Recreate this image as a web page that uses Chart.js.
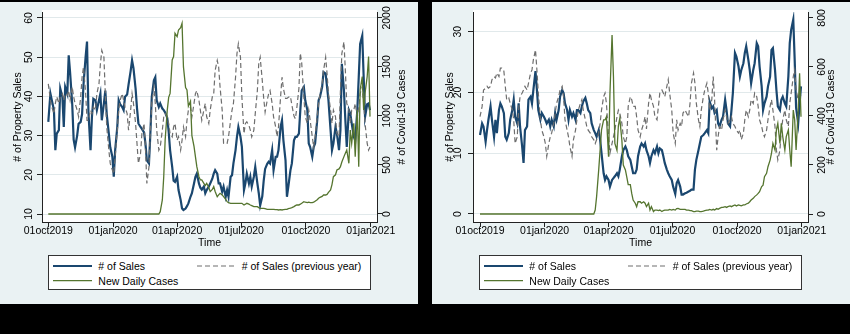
<!DOCTYPE html>
<html><head><meta charset="utf-8">
<script src="https://cdn.jsdelivr.net/npm/chart.js@4.4.1/dist/chart.umd.min.js"></script>
<style>
html,body{margin:0;padding:0;background:#000;width:850px;height:334px;overflow:hidden;font-family:"Liberation Sans",Arial,sans-serif;}
.panel{position:absolute;background:#eaf2f3;}
canvas{position:absolute;top:0;}
.legend{position:absolute;background:#fff;border:1px solid #333;box-sizing:border-box;}
.legend span{position:absolute;font-size:10.5px;line-height:12px;color:#000;white-space:nowrap;}
.legend svg{position:absolute;left:0;top:0;}
</style></head><body>
<div class="panel" style="left:0;top:2px;width:418px;height:302px"></div>
<div class="panel" style="left:432px;top:2px;width:418px;height:302px"></div>
<canvas id="cA" width="418" height="303" style="left:0"></canvas>
<canvas id="cB" width="418" height="303" style="left:432px"></canvas>
<div id="legA" class="legend" style="left:48px;top:255px;width:323px;height:35px"></div>
<div id="legB" class="legend" style="left:479px;top:255px;width:323px;height:35px"></div>
<script>
// ---- data (day 0 = 01oct2019) ----
const seriesNames = ['# of Sales', '# of Sales (previous year)', 'New Daily Cases'];
const xTickDays = [0, 92, 183, 274, 366, 458];
const xTickLabels = ['01oct2019', '01jan2020', '01apr2020', '01jul2020', '01oct2020', '01jan2021'];
const yTicksA = [10, 20, 30, 40, 50, 60];
const y2TicksA = [0, 500, 1000, 1500, 2000];
const yTicksB = [0, 10, 20, 30];
const y2TicksB = [0, 200, 400, 600, 800];

const days = [
0,3,5,8,10,12,15,17,20,22,
24,27,29,31,34,36,38,41,43,46,
48,50,53,55,57,60,62,64,67,69,
72,74,76,79,81,83,86,88,91,93,
95,98,100,102,105,107,109,112,114,117,
119,121,124,126,128,131,133,136,138,140,
143,145,147,150,152,154,157,159,162,164,
166,169,171,173,176,178,180,183,185,188,
190,192,195,197,199,202,204,207,209,211,
214,216,218,221,223,225,228,230,233,235,
237,240,242,244,247,249,252,254,256,259,
261,263,266,268,270,273,275,278,280,282,
285,287,289,292,294,297,299,301,304,306,
308,311,313,315,318,320,323,325,327,330,
332,334,337,339,341,344,346,349,351,353,
356,358,360,363,365,368,370,372,375,377,
379,382,384,386,389,391,394,396,398,401,
403,405,408,410,413,415,417,420,422,424,
427,429,431,434,436,439,441,443,446,448,
450,453,455,457];

// Left panel
const salesA = [
33.5,40.7,39.0,36.5,26.3,30.5,31.4,42.0,39.9,32.2,
42.4,40.7,50.5,46.0,38.0,29.0,27.0,30.0,33.0,33.5,
35.5,43.0,50.0,54.0,36.0,26.3,34.8,39.4,39.0,36.5,
39.0,40.7,33.9,38.2,41.5,35.5,30.5,27.0,24.6,19.5,
26.3,32.2,39.0,38.0,37.3,36.5,39.9,40.5,43.0,46.5,
49.2,47.2,42.0,37.0,33.1,32.2,31.7,30.8,28.0,23.7,
22.9,30.5,39.9,44.1,44.9,39.0,37.3,38.2,36.9,36.5,
35.9,34.5,31.0,26.3,22.0,18.5,18.2,19.5,16.1,13.6,
11.4,11.0,11.4,12.0,12.7,14.4,15.3,17.8,19.5,20.3,
17.8,16.7,16.2,17.0,15.3,16.1,17.0,17.8,19.0,20.3,
21.2,20.3,17.8,17.8,15.7,17.0,14.4,16.1,14.4,19.5,
19.9,22.9,26.3,29.7,32.2,29.7,27.1,16.1,17.8,20.3,
17.8,19.5,17.0,19.5,22.0,17.8,15.3,12.2,14.5,18.5,
21.5,22.8,23.3,22.9,26.3,21.2,24.6,24.6,26.3,32.2,
33.9,28.8,23.7,14.4,17.0,21.2,22.9,28.8,29.7,29.7,
30.5,36.5,41.5,42.4,39.0,36.5,28.0,27.1,24.6,27.1,
28.0,33.9,39.0,39.9,42.4,46.2,45.8,42.4,39.0,31.4,
26.3,28.0,32.2,30.5,26.3,31.4,48.3,41.5,33.9,27.1,
36.5,35.6,33.1,29.7,28.8,36.5,44.9,53.4,55.5,45.0,
34.8,38.0,38.2,36.5];
const prevA = [
43.2,39.0,37.3,35.6,38.2,39.9,38.2,39.9,40.7,39.0,
40.7,40.3,41.5,39.0,42.4,39.9,38.2,36.5,34.8,39.9,
44.9,47.5,41.0,33.9,33.9,36.5,35.6,37.3,36.5,40.7,
43.2,48.3,51.7,50.0,40.7,32.2,26.3,22.9,21.2,20.3,
24.6,31.4,36.5,39.0,40.7,39.0,37.3,35.6,31.4,36.5,
40.7,38.2,33.1,28.0,22.9,25.4,30.5,33.1,27.1,17.8,
22.0,31.4,38.2,42.4,38.2,31.4,26.3,27.1,31.4,34.8,
35.6,34.8,33.1,30.5,29.7,32.2,33.1,28.8,29.7,26.3,
28.8,32.2,29.7,33.9,36.5,37.3,34.8,38.2,40.7,41.5,
39.0,36.5,33.9,36.5,38.2,34.8,33.1,36.5,39.9,40.7,
46.6,49.2,47.5,42.4,36.5,28.0,28.0,28.0,29.7,33.9,
36.5,38.2,44.9,50.9,53.4,50.0,39.9,30.5,33.1,33.5,
32.6,31.4,29.7,31.4,35.6,41.5,48.5,50.0,44.0,39.5,
36.0,39.0,40.7,41.5,38.2,34.8,32.2,29.7,32.2,39.9,
44.9,42.0,39.5,39.5,39.8,40.0,37.8,35.0,34.3,37.0,
42.0,51.0,48.5,39.9,34.8,33.1,36.5,33.9,29.7,27.1,
29.7,34.8,38.2,40.7,43.2,46.6,50.0,45.8,40.7,36.5,
33.1,36.5,34.8,30.5,29.7,41.5,50.9,53.9,46.6,38.2,
36.5,33.1,36.5,36.5,38.2,34.8,37.3,40.7,42.4,38.2,
33.1,28.0,26.3,27.1];
const casesA = [
0,0,0,0,0,0,0,0,0,0,
0,0,0,0,0,0,0,0,0,0,
0,0,0,0,0,0,0,0,0,0,
0,0,0,0,0,0,0,0,0,0,
0,0,0,0,0,0,0,0,0,0,
0,0,0,0,0,0,0,0,0,0,
0,0,0,0,0,0,0,24,143,381,
755,1060,1190,1230,1571,1605,1843,1809,1877,1900,
1945,1500,1290,1265,1100,1150,800,690,585,483,
381,347,347,313,290,313,270,228,250,279,
230,177,195,211,195,177,150,126,115,109,
109,109,109,109,109,109,109,92,100,109,
100,92,85,75,75,75,65,58,58,58,
55,48,48,48,48,48,45,45,41,45,
41,45,48,48,55,60,65,75,85,92,
92,100,110,126,120,116,120,116,116,120,
130,145,160,170,180,194,194,200,220,245,
300,381,400,449,460,483,530,585,620,653,
517,857,721,925,585,1061,483,1265,1401,1061,
1231,1401,1605,993];

// Right panel
const salesB = [
13.0,14.9,14.4,11.9,13.8,15.5,17.7,15.5,12.7,15.5,
13.3,17.1,18.2,17.7,16.6,12.7,12.2,13.3,15.5,17.1,
18.8,16.0,14.9,18.2,14.4,11.1,8.4,13.8,14.4,18.8,
19.3,18.2,20.4,23.5,20.5,17.1,15.5,16.6,16.0,15.5,
14.9,15.5,14.4,15.5,14.4,16.6,15.5,17.1,19.3,20.4,
19.9,18.2,17.1,15.5,17.1,16.0,16.6,15.5,17.1,17.1,
16.6,17.7,18.5,19.1,18.2,17.1,16.6,14.9,13.8,13.3,
12.7,13.8,12.2,10.0,6.7,5.6,6.2,5.6,4.5,5.6,
5.9,6.2,6.7,6.2,7.3,9.5,10.5,11.1,10.5,9.5,
8.9,7.8,6.7,6.7,7.3,9.5,11.1,11.6,11.1,11.6,
10.5,9.5,8.4,9.5,10.5,10.0,11.1,10.0,10.8,10.5,
9.5,8.4,7.3,6.7,6.2,5.6,4.5,3.3,5.1,5.6,
4.5,3.2,3.2,3.4,3.5,3.7,3.8,4.0,4.0,7.3,
8.9,10.5,11.6,12.7,13.0,13.3,13.8,13.3,18.5,17.4,
17.7,16.6,17.1,14.9,14.4,15.5,16.0,18.8,17.1,14.9,
14.4,17.1,19.9,26.5,25.9,24.3,22.6,23.7,24.8,26.5,
27.6,25.4,23.7,21.5,23.7,24.8,28.1,27.6,24.3,21.0,
17.1,18.2,19.3,21.0,22.6,27.0,27.3,23.7,20.4,17.7,
17.1,18.8,19.3,18.2,17.7,22.6,28.1,30.3,32.0,25.4,
17.5,14.9,18.2,21.0];
const prevB = [
16.0,17.7,20.4,20.7,21.0,20.7,21.0,22.1,22.6,22.4,
23.2,22.6,24.0,24.0,23.5,21.0,18.8,19.1,18.2,17.1,
15.5,11.6,12.7,17.1,19.3,19.9,20.4,21.0,20.4,21.5,
23.2,23.7,25.4,27.0,23.7,19.9,15.5,13.8,12.7,11.6,
9.5,11.6,12.7,13.3,14.9,16.6,18.2,19.3,20.4,21.0,
19.3,15.5,13.8,12.7,11.1,9.5,12.2,13.8,15.5,17.1,
18.2,18.8,17.1,15.5,14.4,13.8,13.3,12.7,12.2,11.6,
12.2,13.3,14.9,17.1,19.3,19.9,18.2,12.7,10.0,11.6,
12.7,13.8,16.0,17.1,16.6,14.9,12.7,11.6,12.7,17.7,
19.3,18.8,17.7,17.7,16.0,13.8,12.7,13.8,14.9,16.0,
14.0,18.2,19.9,18.8,17.7,16.0,15.5,17.7,19.9,20.4,
19.9,19.3,21.0,22.1,19.9,17.1,13.3,11.6,15.5,13.8,
14.9,14.4,16.6,17.1,16.6,16.0,18.2,21.5,23.2,21.5,
18.2,15.5,14.4,17.1,19.3,20.4,21.5,19.9,17.1,18.8,
22.6,18.8,10.5,12.7,14.4,13.8,15.5,17.1,16.0,14.9,
15.5,16.0,14.9,14.4,13.8,13.3,13.8,12.2,13.3,15.5,
17.1,16.0,17.1,18.8,18.2,19.9,19.3,17.7,15.5,14.4,
13.3,12.7,13.8,15.5,17.7,18.8,17.1,14.4,10.5,8.9,
10.5,13.8,15.5,17.1,15.5,14.4,18.2,19.9,22.6,23.7,
20.4,18.8,19.9,19.5];
const casesB = [
0,0,0,0,0,0,0,0,0,0,
0,0,0,0,0,0,0,0,0,0,
0,0,0,0,0,0,0,0,0,0,
0,0,0,0,0,0,0,0,0,0,
0,0,0,0,0,0,0,0,0,0,
0,0,0,0,0,0,0,0,0,0,
0,0,0,0,0,0,0,0,0,16,
71,180,261,343,384,384,397,234,492,730,
560,288,260,360,390,300,200,180,150,120,
120,84,57,44,30,50,50,44,50,44,
30,44,16,30,10,16,16,14,16,10,
14,16,16,16,19,16,19,16,22,23,
19,19,19,19,16,16,14,14,10,10,
12,12,10,10,12,14,16,16,19,16,
19,16,22,19,23,27,27,30,27,30,
33,30,33,37,33,37,35,33,37,37,
41,44,50,57,64,71,78,84,91,112,
118,152,166,193,220,248,288,261,343,370,
288,370,316,261,316,343,261,193,424,384,
261,424,574,397];

// ---- styling ----
const NAVY = '#1a476f', GREY = '#6e6e6e', GREEN = '#55752f', AXIS = '#222', GRID = '#e1e9eb';
const FONT = '"Liberation Sans", Arial, sans-serif';
Chart.defaults.font.family = FONT;

const bgPlugin = {
  id: 'plotbg',
  beforeDraw(chart) {
    const a = chart.chartArea, c = chart.ctx;
    c.save(); c.fillStyle = '#fff'; c.fillRect(a.left, a.top - 2, a.right - a.left, a.bottom - a.top + 2); c.restore();
  }
};
const yLabPlugin = {
  id: 'ylab',
  afterDraw(chart, args, opts) {
    const c = chart.ctx, a = chart.chartArea;
    c.save();
    c.fillStyle = '#000'; c.font = '10.5px ' + FONT; c.textAlign = 'center'; c.textBaseline = 'middle';
    opts.axes.forEach(ax => {
      const sc = chart.scales[ax.id];
      sc.ticks.forEach(t => {
        c.save(); c.translate(ax.labelX, sc.getPixelForValue(t.value)); c.rotate(-Math.PI / 2);
        c.fillText(String(t.value), 0, 0); c.restore();
      });
      c.save(); c.translate(ax.titleX, (a.top + a.bottom) / 2); c.rotate(-Math.PI / 2);
      c.fillText(ax.title, 0, 0); c.restore();
    });
    c.restore();
  }
};

function pts(vals) { return days.map((d, i) => ({ x: d, y: vals[i] })); }

function makeChart(id, sales, prev, cases, g) {
  return new Chart(document.getElementById(id), {
    type: 'line',
    data: { datasets: [
      { label: seriesNames[2], data: pts(cases), yAxisID: 'y2', borderColor: GREEN, borderWidth: 1.3, pointRadius: 0, tension: 0 },
      { label: seriesNames[1], data: pts(prev), yAxisID: 'y', borderColor: GREY, borderWidth: 1.2, borderDash: [5, 3], pointRadius: 0, tension: 0 },
      { label: seriesNames[0], data: pts(sales), yAxisID: 'y', borderColor: NAVY, borderWidth: 2.2, pointRadius: 0, tension: 0 }
    ]},
    options: {
      responsive: false, animation: false, devicePixelRatio: 1,
      layout: { padding: { top: 12, bottom: 53.7, left: 0, right: 0 } },
      plugins: {
        legend: { display: false }, tooltip: { enabled: false },
        ylab: { axes: [
          { id: 'y', labelX: g.lx, titleX: g.ltx, title: '# of Property Sales' },
          { id: 'y2', labelX: g.rx, titleX: g.rtx, title: '# of Covid-19 Cases' }
        ] }
      },
      scales: {
        x: {
          type: 'linear', min: g.xmin, max: g.xmax,
          afterBuildTicks: s => { s.ticks = xTickDays.map(v => ({ value: v })); },
          afterFit: s => { s.height = 27.3; },
          ticks: { callback: (v, i) => xTickLabels[i], autoSkip: false, maxRotation: 0, minRotation: 0, padding: -2, color: '#000', font: { size: 10.5 } },
          grid: { drawOnChartArea: false, tickLength: 5, tickColor: AXIS, tickWidth: 1 },
          border: { color: AXIS, width: 1 },
          title: { display: true, text: 'Time', color: '#000', padding: 0, font: { size: 10.5 } }
        },
        y: {
          position: 'left', min: g.ymin, max: g.ymax,
          afterBuildTicks: s => { s.ticks = g.yt.map(v => ({ value: v })); },
          afterFit: s => { s.width = g.lw; },
          ticks: { display: false },
          grid: { color: GRID, lineWidth: 1, tickLength: 5, tickColor: AXIS },
          border: { color: AXIS, width: 1 }
        },
        y2: {
          position: 'right', min: g.y2min, max: g.y2max,
          afterBuildTicks: s => { s.ticks = g.y2t.map(v => ({ value: v })); },
          afterFit: s => { s.width = g.rw; },
          ticks: { display: false },
          grid: { drawOnChartArea: false, tickLength: 5, tickColor: AXIS },
          border: { color: AXIS, width: 1 }
        }
      }
    },
    plugins: [bgPlugin, yLabPlugin]
  });
}

makeChart('cA', salesA, prevA, casesA, {
  xmin: -8.95, xmax: 466.95, ymin: 7.96, ymax: 61.53, y2min: -81.6, y2max: 2060,
  yt: yTicksA, y2t: y2TicksA, lw: 42, rw: 41, lx: 29, ltx: 18.3, rx: 387.5, rtx: 401.7
});
makeChart('cB', salesB, prevB, casesB, {
  xmin: -9.97, xmax: 466.97, ymin: -1.32, ymax: 33.23, y2min: -32.6, y2max: 824.2,
  yt: yTicksB, y2t: y2TicksB, lw: 41, rw: 42, lx: 26.3, ltx: 18.3, rx: 389.7, rtx: 399
});

function buildLegend(id) {
  const el = document.getElementById(id);
  el.innerHTML =
    '<svg width="321" height="33">' +
    '<line x1="4" y1="10" x2="43" y2="10" stroke="' + NAVY + '" stroke-width="2.2"/>' +
    '<line x1="148" y1="10" x2="187" y2="10" stroke="' + GREY + '" stroke-width="1.2" stroke-dasharray="5 3"/>' +
    '<line x1="4" y1="24.7" x2="43" y2="24.7" stroke="' + GREEN + '" stroke-width="1.3"/>' +
    '</svg>' +
    '<span style="left:49.3px;top:4px">' + seriesNames[0] + '</span>' +
    '<span style="left:192.7px;top:4px">' + seriesNames[1] + '</span>' +
    '<span style="left:49.3px;top:18.7px">' + seriesNames[2] + '</span>';
}
buildLegend('legA');
buildLegend('legB');
</script>
</body></html>
